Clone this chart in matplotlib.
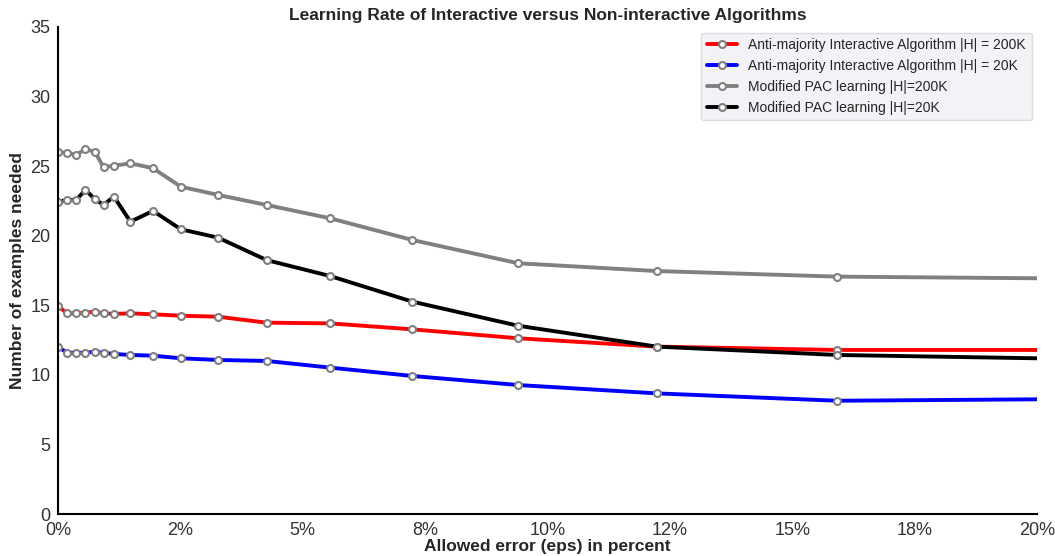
import matplotlib
matplotlib.use('Agg')
import matplotlib.pyplot as plt
from matplotlib.ticker import StrMethodFormatter
import seaborn as sns

# allowed error in percent (last point lies just past the axis limit)
eps = [0, 0.18, 0.37, 0.56, 0.75, 0.93, 1.14, 1.48, 1.94, 2.51, 3.27,
       4.26, 5.56, 7.24, 9.40, 12.23, 15.91, 20.68]

anti_200k = [14.97, 14.42, 14.42, 14.47, 14.54, 14.42, 14.38, 14.42, 14.35,
             14.25, 14.18, 13.75, 13.70, 13.27, 12.63, 12.03, 11.79, 11.79]
anti_20k = [12.03, 11.59, 11.59, 11.59, 11.66, 11.59, 11.50, 11.43, 11.38,
            11.19, 11.07, 11.00, 10.52, 9.92, 9.27, 8.67, 8.14, 8.26]
pac_200k = [26.04, 25.92, 25.82, 26.21, 26.04, 24.92, 25.03, 25.20, 24.85,
            23.52, 22.93, 22.21, 21.25, 19.69, 18.02, 17.46, 17.06, 16.92]
pac_20k = [22.42, 22.57, 22.57, 23.29, 22.64, 22.21, 22.81, 21.01, 21.78,
           20.46, 19.86, 18.25, 17.10, 15.26, 13.53, 12.03, 11.43, 11.15]

series = [
    (anti_200k, 'red', 'Anti-majority Interactive Algorithm |H| = 200K'),
    (anti_20k, 'blue', 'Anti-majority Interactive Algorithm |H| = 20K'),
    (pac_200k, 'gray', 'Modified PAC learning |H|=200K'),
    (pac_20k, 'black', 'Modified PAC learning |H|=20K'),
]

sns.set_style('white')
plt.rcParams['font.family'] = ['Liberation Sans', 'DejaVu Sans']

fig = plt.figure(figsize=(10.55, 5.56), dpi=100)
ax = fig.add_axes([0.055, 0.0755, 0.928, 0.876])

for vals, col, lab in series:
    ax.plot(eps, vals, color=col, lw=2.8, marker='o', markersize=5,
            markerfacecolor='white', markeredgecolor='gray',
            markeredgewidth=1.5, label=lab, clip_on=True)

ax.set_xlim(0, 20)
ax.set_ylim(0, 35)
ax.set_xticks([0, 2.5, 5, 7.5, 10, 12.5, 15, 17.5, 20])
ax.xaxis.set_major_formatter(StrMethodFormatter('{x:.0f}%'))
ax.tick_params(labelsize=13, colors='#333333', pad=2)

ax.set_title('Learning Rate of Interactive versus Non-interactive Algorithms',
             fontsize=12.5, fontweight='bold', color='#262626', pad=5)
ax.set_xlabel('Allowed error (eps) in percent', fontsize=12.5,
              fontweight='bold', color='#262626', labelpad=0)
ax.set_ylabel('Number of examples needed', fontsize=12.5,
              fontweight='bold', color='#262626', labelpad=4)

sns.despine(ax=ax)
for side in ['left', 'bottom']:
    ax.spines[side].set_color('black')
    ax.spines[side].set_linewidth(1.5)

leg = ax.legend(loc='upper right', fontsize=10, frameon=True,
                facecolor='#F2F2F7', edgecolor='#DDDDDD', framealpha=1,
                handlelength=2.2, borderaxespad=0.4)

fig.savefig('out.png', dpi=100)
